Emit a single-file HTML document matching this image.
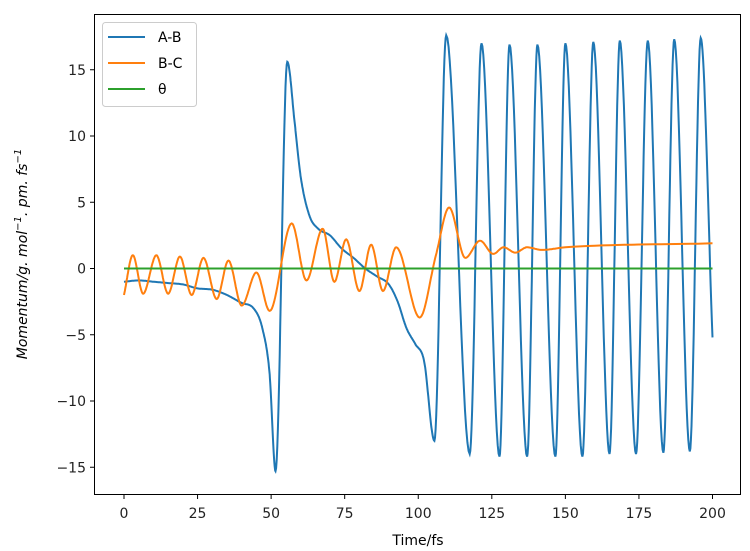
<!DOCTYPE html>
<html><head><meta charset="utf-8"><style>
body{margin:0;background:#fff;}
svg{display:block;font-family:"DejaVu Sans","Liberation Sans",sans-serif;}
</style></head><body>
<svg id="s" width="750" height="551" viewBox="0 0 750 551" xmlns="http://www.w3.org/2000/svg">
<rect width="750" height="551" fill="#fff"/>
<g id="plot"></g>
<rect x="94.5" y="14.5" width="646" height="480" fill="none" stroke="#000" stroke-width="1"/>
<g id="ticks" font-size="14" fill="#222"></g>
<text x="418" y="545" font-size="14" text-anchor="middle">Time/fs</text>
<text transform="translate(27,254) rotate(-90)" font-size="14" text-anchor="middle" font-style="italic">Momentum/g. mol<tspan dy="-6" font-size="10">−1</tspan><tspan dy="6">. pm. fs</tspan><tspan dy="-6" font-size="10">−1</tspan></text>
<g>
<rect x="102.5" y="22.5" width="94" height="84" rx="3" fill="#fff" fill-opacity="0.8" stroke="#ccc"/>
<line x1="108" y1="37" x2="145" y2="37" stroke="#1f77b4" stroke-width="2"/>
<line x1="108" y1="63" x2="145" y2="63" stroke="#ff7f0e" stroke-width="2"/>
<line x1="108" y1="89" x2="145" y2="89" stroke="#2ca02c" stroke-width="2"/>
<text x="158" y="42" font-size="14">A-B</text>
<text x="158" y="68" font-size="14">B-C</text>
<text x="158" y="94" font-size="14">θ</text>
</g>
</svg>
<script>
const X=t=>124+t*2.9425, Y=v=>268.5-v*13.25;
function mono(pts){const n=pts.length,xs=pts.map(p=>p[0]),ys=pts.map(p=>p[1]);const d=[],m=[];
for(let i=0;i<n-1;i++)d.push((ys[i+1]-ys[i])/(xs[i+1]-xs[i]));
m[0]=d[0];m[n-1]=d[n-2];
for(let i=1;i<n-1;i++){m[i]=(d[i-1]*d[i]<=0)?0:(d[i-1]+d[i])/2;}
for(let i=0;i<n-1;i++){if(d[i]===0){m[i]=m[i+1]=0;continue;}const a=m[i]/d[i],b=m[i+1]/d[i],s=a*a+b*b;if(s>9){const t=3/Math.sqrt(s);m[i]=t*a*d[i];m[i+1]=t*b*d[i];}}
let out=[];for(let i=0;i<n-1;i++){const h=xs[i+1]-xs[i];for(let k=0;k<20;k++){const t=k/20,t2=t*t,t3=t2*t;
const v=(2*t3-3*t2+1)*ys[i]+(t3-2*t2+t)*h*m[i]+(-2*t3+3*t2)*ys[i+1]+(t3-t2)*h*m[i+1];out.push([xs[i]+t*h,v]);}}
out.push([xs[n-1],ys[n-1]]);return out.map(p=>X(p[0]).toFixed(1)+","+Y(p[1]).toFixed(1)).join(" ");}
const ab=[[0,-1],[5,-0.9],[10,-1],[15,-1.1],[20,-1.2],[25,-1.5],[30,-1.6],[35,-2.0],[40,-2.6],[44,-3],[47,-4.5],[49.5,-8],[51.5,-15.3],[55.5,15.6],[58,11],[60,7],[63,4],[66,3],[70,2.5],[74,1.5],[78,0.8],[82,0],[86,-0.6],[90,-1.2],[93,-2.5],[96,-4.5],[99,-5.7],[102,-7],[105.5,-13],[109.5,17.6],
[117.5,-14],[121.5,17],[127.6,-14.2],[131,16.9],[137,-14.2],[140.5,16.9],[146.6,-14.2],[150,17],[155.8,-14.2],[159.5,17.1],[165,-14],[168.5,17.2],[174,-14],[178,17.2],[183.3,-13.9],[187,17.3],[192.3,-13.8],[196,17.4],[200,-5.2]];
const bc=[[0,-2],[3,1.0],[6.5,-1.9],[11,1.0],[15,-1.9],[19,0.9],[23,-2.0],[27,0.8],[31.5,-2.3],[35.5,0.6],[40,-2.8],[45,-0.3],[49.5,-3.2],[57,3.4],[62,-0.9],[67.5,3.0],[71.5,-1.0],[75.5,2.2],[80,-1.7],[84,1.8],[88,-1.7],[92.5,1.6],[100.5,-3.7],[106,1],[110.5,4.6],[116,0.8],[121,2.1],[125.5,1.1],[129,1.6],[133,1.2],[137,1.6],[142,1.4],[150,1.6],[200,1.9]];
const g=document.getElementById("plot");
g.innerHTML=`<polyline points="${mono(ab)}" fill="none" stroke="#1f77b4" stroke-width="2"/>
<polyline points="${mono(bc)}" fill="none" stroke="#ff7f0e" stroke-width="2"/>
<line x1="${X(0)}" y1="${Y(0)}" x2="${X(200)}" y2="${Y(0)}" stroke="#2ca02c" stroke-width="2"/>`;
let tk="";
for(let t=0;t<=200;t+=25){const x=X(t);tk+=`<line x1="${x}" y1="495" x2="${x}" y2="499" stroke="#000"/><text x="${x}" y="518" text-anchor="middle">${t}</text>`;}
for(let v=-15;v<=15;v+=5){const y=Y(v);tk+=`<line x1="90" y1="${y}" x2="94" y2="${y}" stroke="#000"/><text x="86" y="${y+5}" text-anchor="end">${v<0?"−"+(-v):v}</text>`;}
document.getElementById("ticks").innerHTML=tk;
</script>
</body></html>
